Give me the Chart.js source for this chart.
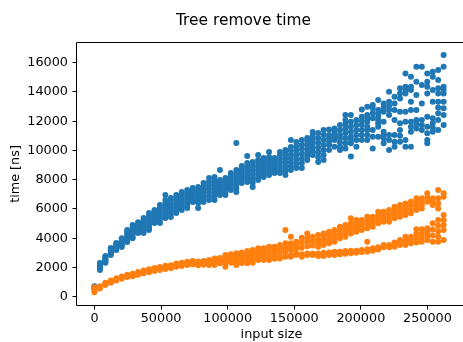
<!DOCTYPE html>
<html>
<head>
<meta charset="utf-8">
<script src="https://cdn.jsdelivr.net/npm/chart.js@4.4.1/dist/chart.umd.min.js"></script>
<style>
  html, body { margin: 0; padding: 0; background: #fff; }
  canvas { display: block; }
</style>
</head>
<body>
<canvas id="chart" width="463" height="342"></canvas>
<script>
const chartTitle = "Tree remove time";
const xLabel = "input size";
const yLabel = "time [ns]";

const xTicks = [0, 50000, 100000, 150000, 200000, 250000];
const yTicks = [0, 2000, 4000, 6000, 8000, 10000, 12000, 14000, 16000];

const inputSizes = [
  0, 4096, 8192, 12288, 16384, 20480, 24576, 28672, 32768, 36864, 40960,
  45056, 49152, 53248, 57344, 61440, 65536, 69632, 73728, 77824, 81920,
  86016, 90112, 94208, 98304, 102400, 106496, 110592, 114688, 118784, 122880,
  126976, 131072, 135168, 139264, 143360, 147456, 151552, 155648, 159744,
  163840, 167936, 172032, 176128, 180224, 184320, 188416, 192512, 196608,
  200704, 204800, 208896, 212992, 217088, 221184, 225280, 229376, 233472,
  237568, 241664, 245760, 249856, 253952, 258048, 262144,
];

// one list of measured times per input size
const timesA = [
  [560, 640, 720],
  [1830, 1900, 1980, 2060, 2150, 2230, 2300],
  [2320, 2400, 2480, 2560, 2640, 2720, 2780],
  [2850, 2930, 3010, 3090, 3170, 3250, 3330],
  [3200, 3280, 3360, 3440, 3520, 3600, 3670],
  [3400, 3500, 3600, 3700, 3800, 3900, 4000],
  [3740, 3880, 4020, 4160, 4300, 4430, 4560],
  [4000, 4150, 4300, 4450, 4600, 4750, 4900],
  [4360, 4480, 4600, 4720, 4850, 4980, 5100],
  [4360, 4520, 4690, 4860, 5030, 5200, 5380],
  [4560, 4750, 4940, 5140, 5330, 5520, 5720],
  [5040, 5190, 5340, 5490, 5640, 5790, 5930],
  [5040, 5240, 5440, 5650, 5850, 6060, 6270],
  [5380, 5580, 5790, 6000, 6200, 6410, 6610, 6950],
  [5450, 5670, 5890, 6110, 6330, 6550, 6750],
  [5720, 5920, 6120, 6330, 6540, 6750, 6950],
  [5930, 6130, 6340, 6540, 6750, 6950, 7160],
  [6060, 6270, 6480, 6680, 6890, 7100, 7300],
  [6480, 6640, 6800, 6950, 7110, 7270, 7430],
  [6060, 6400, 6580, 6760, 6950, 7130, 7320, 7500],
  [6480, 6690, 6900, 7110, 7330, 7540, 7780],
  [6610, 6860, 7110, 7360, 7610, 7860, 8120],
  [6610, 6870, 7130, 7390, 7660, 7920, 8190],
  [6950, 7120, 7290, 7470, 7640, 7810, 7980, 8660],
  [6950, 7150, 7340, 7540, 7730, 7930, 8120],
  [7300, 7490, 7690, 7880, 8080, 8270, 8460],
  [7160, 7410, 7660, 7910, 8160, 8410, 8660, 10510],
  [7780, 7970, 8170, 8360, 8550, 8750, 8940],
  [7850, 8060, 8280, 8490, 8710, 8920, 9140, 9620],
  [7500, 7790, 8070, 8360, 8640, 8930, 9210],
  [7980, 8210, 8440, 8670, 8890, 9120, 9350, 9690],
  [8190, 8410, 8620, 8840, 9060, 9270, 9490],
  [8320, 8530, 8730, 8940, 9140, 9350, 9550, 9900],
  [8460, 8630, 8800, 8970, 9150, 9320, 9490],
  [8460, 8700, 8940, 9180, 9420, 9660, 9900],
  [8320, 8600, 8890, 9170, 9460, 9740, 10030],
  [8660, 8920, 9190, 9450, 9710, 9980, 10240, 10720],
  [8800, 9100, 9390, 9690, 9990, 10280, 10580],
  [8800, 9120, 9440, 9760, 10080, 10400, 10720],
  [9350, 9600, 9850, 10100, 10350, 10600, 10850],
  [9690, 9950, 10210, 10480, 10740, 11000, 11260],
  [9210, 9540, 9870, 10200, 10530, 10860, 11190],
  [9350, 9690, 10030, 10380, 10720, 11060, 11400],
  [10030, 10370, 10600, 10830, 11060, 11440],
  [10260, 10720, 10980, 11250, 11510],
  [10030, 10260, 10540, 10830, 11060, 11400, 11740],
  [10140, 10490, 10830, 11170, 11510, 11800, 12080, 12420],
  [9580, 10490, 10720, 10940, 11280, 11630, 11970, 12420],
  [10260, 10720, 11060, 11400, 11740, 12080],
  [10720, 11060, 11400, 11740, 12020, 12310, 12810],
  [10720, 11060, 11400, 11630, 11970, 12200, 12420, 12990],
  [10140, 10940, 11400, 12200, 12540, 12880, 13110],
  [10940, 11630, 11860, 12080, 12310, 12540, 12770, 13450],
  [10490, 10830, 11060, 11280, 11970, 12650, 12940, 13220],
  [10030, 10720, 11060, 12420, 12770, 13050, 13330, 14020],
  [10260, 10600, 11060, 12080, 12770, 13220, 13680],
  [10600, 11000, 11400, 11860, 12650, 13560, 13900, 14250],
  [10260, 10720, 11970, 12650, 13900, 14130, 14360, 15270],
  [10260, 11280, 11630, 11970, 12770, 13330, 14130, 14360, 15040],
  [11510, 11800, 12080, 12770, 13790, 14700, 15730],
  [11400, 11740, 12080, 13220, 14480, 15730],
  [10490, 10720, 11170, 11630, 12310, 13900, 14360, 14700, 15270],
  [11280, 11570, 11860, 12200, 13330, 14130, 15040, 15380],
  [11400, 12080, 12540, 12940, 13330, 13900, 14250, 14820, 15500],
  [11740, 12420, 12880, 13330, 13900, 14130, 14360, 15730, 16530],
];

const timesB = [
  [300, 420, 540, 650],
  [560, 640, 720],
  [800, 870, 950],
  [960, 1030, 1110],
  [1110, 1190, 1270],
  [1220, 1300, 1380],
  [1340, 1420, 1500],
  [1400, 1480, 1570],
  [1500, 1600, 1690],
  [1600, 1710, 1800],
  [1680, 1780, 1880],
  [1760, 1870, 1970],
  [1830, 1940, 2040],
  [1900, 2010, 2110],
  [1950, 2050, 2150],
  [2050, 2170, 2270],
  [2100, 2210, 2320],
  [2160, 2280, 2390],
  [2200, 2330, 2440],
  [2150, 2280, 2400],
  [2180, 2320, 2450],
  [2170, 2290, 2400, 2510],
  [2170, 2320, 2470, 2620],
  [2280, 2400, 2520, 2640],
  [2050, 2330, 2500, 2680, 2850],
  [2330, 2480, 2640, 2800, 2900],
  [2170, 2400, 2590, 2780, 2970],
  [2300, 2480, 2660, 2840, 3030],
  [2280, 2480, 2700, 2920, 3130],
  [2330, 2550, 2760, 2970, 3200],
  [2510, 2700, 2900, 3100, 3310],
  [2510, 2650, 2850, 3100, 3310],
  [2510, 2640, 2900, 3150, 3420],
  [2600, 2700, 2950, 3200, 3420],
  [2620, 2740, 3050, 3300, 3540],
  [2740, 2850, 3150, 3400, 3650, 4560],
  [2740, 2850, 3200, 3450, 3650, 4100],
  [2850, 2950, 3300, 3550, 3760],
  [2740, 2900, 3350, 3700, 4040],
  [2850, 2950, 3450, 3750, 3990, 4330],
  [2850, 2960, 3500, 3800, 4100],
  [2780, 2960, 3420, 3650, 3900, 4220],
  [2780, 3010, 3540, 3800, 4050, 4330],
  [2850, 3030, 3650, 3900, 4180, 4450],
  [2850, 3080, 3760, 4000, 4280, 4560],
  [2900, 3080, 3990, 4260, 4520, 4790],
  [2940, 3120, 4100, 4370, 4640, 4900],
  [2980, 3150, 4330, 4560, 4790, 5020, 5360],
  [3000, 3150, 4450, 4720, 4990, 5250],
  [3050, 3190, 4560, 4790, 5020, 5250],
  [3080, 3240, 3760, 4680, 4940, 5200, 5470],
  [3150, 3310, 4790, 5020, 5250, 5470],
  [3220, 3380, 5020, 5280, 5550, 5810],
  [3380, 3540, 5130, 5360, 5580, 5810],
  [3380, 3540, 5130, 5400, 5670, 5930],
  [3420, 3560, 3700, 5360, 5630, 5900, 6160],
  [3540, 3710, 3880, 5470, 5740, 6000, 6270],
  [3540, 3820, 4100, 5590, 5850, 6120, 6380],
  [3650, 3880, 4100, 5700, 5970, 6230, 6500],
  [3700, 4000, 4300, 4610, 5930, 6200, 6460, 6730],
  [3760, 4050, 4340, 4610, 6040, 6270, 6500, 6730],
  [3880, 4150, 4420, 4680, 6500, 6780, 7070],
  [3760, 4180, 4600, 5020, 6270, 6500, 6730],
  [3760, 4100, 4480, 4860, 5250, 6040, 6380, 6730, 7300],
  [3880, 4560, 4900, 5250, 5590, 6840, 7070],
];

const toPoints = (times) =>
  times.flatMap((col, i) => col.map((t) => ({ x: inputSizes[i], y: t })));

// title, axis labels and the frame, placed like the matplotlib figure
const figureText = {
  id: "figureText",
  afterDraw(chart) {
    const { ctx, chartArea: area } = chart;
    ctx.save();
    ctx.strokeStyle = "#000";
    ctx.lineWidth = 1;
    ctx.beginPath();
    ctx.moveTo(chart.width, area.top - 0.5);
    ctx.lineTo(area.left - 0.5, area.top - 0.5);
    ctx.lineTo(area.left - 0.5, area.bottom + 0.5);
    ctx.lineTo(chart.width, area.bottom + 0.5);
    ctx.stroke();

    ctx.fillStyle = "#000";
    ctx.textAlign = "center";
    ctx.textBaseline = "alphabetic";
    ctx.font = "15.4px 'DejaVu Sans'";
    ctx.fillText(chartTitle, 243.5, 25);

    ctx.font = "12.8px 'DejaVu Sans'";
    ctx.fillText(xLabel, 271.5, 337.5);

    ctx.translate(15.5, (area.top + area.bottom) / 2);
    ctx.rotate(-Math.PI / 2);
    ctx.textBaseline = "middle";
    ctx.fillText(yLabel, 0, 0);
    ctx.restore();
  },
};

Chart.defaults.font.family = "'DejaVu Sans'";
Chart.defaults.font.size = 12.8;
Chart.defaults.color = "#000";

const axisGrid = {
  display: true,
  drawOnChartArea: false,
  drawTicks: true,
  tickLength: 4.5,
  tickColor: "#000",
  tickWidth: 1,
};

const config = {
  type: "scatter",
  data: {
    datasets: [
      {
        label: "tree A",
        data: toPoints(timesA),
        backgroundColor: "#1f77b4",
        borderWidth: 0,
        pointRadius: 3.0,
        order: 1,
      },
      {
        label: "tree B",
        data: toPoints(timesB),
        backgroundColor: "#ff7f0e",
        borderWidth: 0,
        pointRadius: 3.0,
        order: 0,
      },
    ],
  },
  options: {
    responsive: false,
    devicePixelRatio: 1,
    animation: false,
    layout: { padding: { top: 43, right: 0, bottom: 0, left: 0 } },
    plugins: {
      legend: { display: false },
      title: { display: false },
      tooltip: { enabled: false },
    },
    scales: {
      x: {
        type: "linear",
        min: -13107,
        max: 273668,
        grid: axisGrid,
        border: { display: false },
        ticks: {
          padding: 1,
          autoSkip: false,
          maxRotation: 0,
          includeBounds: false,
          callback: (v) => String(v),
        },
        afterBuildTicks: (scale) => {
          scale.ticks = xTicks.map((v) => ({ value: v }));
        },
        afterFit: (scale) => {
          scale.height = 37;
        },
      },
      y: {
        type: "linear",
        min: -567,
        max: 17350,
        grid: axisGrid,
        border: { display: false },
        ticks: {
          padding: 4.5,
          autoSkip: false,
          includeBounds: false,
          callback: (v) => String(v),
        },
        afterBuildTicks: (scale) => {
          scale.ticks = yTicks.map((v) => ({ value: v }));
        },
        afterFit: (scale) => {
          scale.width = 77;
        },
      },
    },
  },
  plugins: [figureText],
};

new Chart(document.getElementById("chart"), config);
</script>
</body>
</html>
